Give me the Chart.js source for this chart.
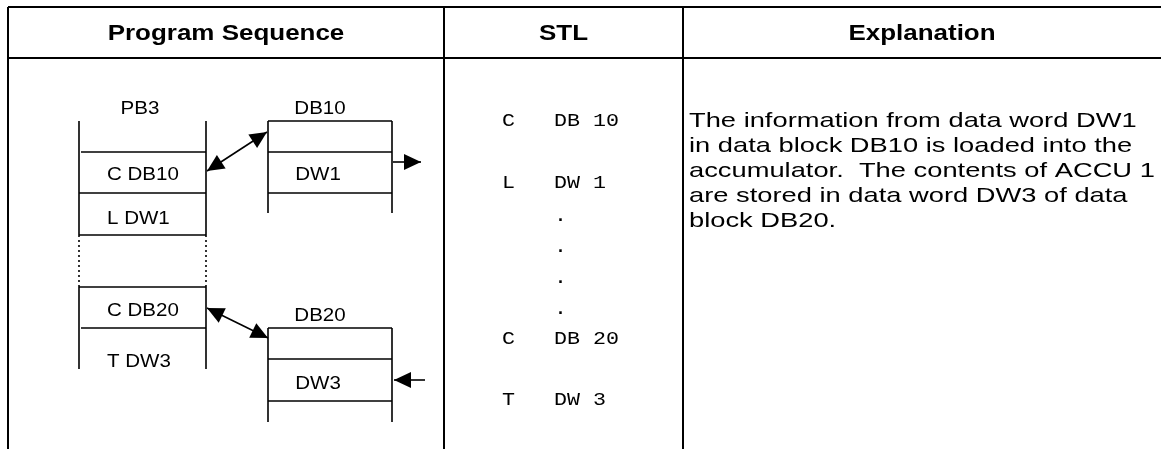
<!DOCTYPE html>
<html>
<head>
<meta charset="utf-8">
<script src="https://cdn.jsdelivr.net/npm/chart.js@4/dist/chart.umd.min.js"></script>
<style>
  body { margin: 0; background: #fff; }
  #diagram { display: block; }
</style>
</head>
<body>
<canvas id="diagram" width="1161" height="449"></canvas>
<script>
// page is 1161 x 449, the diagram uses the same units on both axes
const W = 1161, H = 449;

const headers = ["Program Sequence", "STL", "Explanation"];
const columnEdges = [8, 444, 683, 1161];

// table frame [x1, y1, x2, y2]
const frameLines = [
    [8, 7, 1161, 7], [8, 58, 1161, 58],
    [8, 7, 8, 449], [444, 7, 444, 449], [683, 7, 683, 449]
];

// block outlines of PB3, DB10 and DB20
const blockLines = [
    [79, 121, 79, 235], [206, 121, 206, 235], [79, 286, 79, 369], [206, 286, 206, 369],
    [81, 152, 206, 152], [79, 193, 206, 193], [79, 235, 206, 235], [79, 287, 206, 287], [81, 328, 206, 328],
    [268, 121, 392, 121], [268, 152, 392, 152], [268, 193, 392, 193], [268, 121, 268, 213], [392, 121, 392, 213],
    [268, 328, 392, 328], [268, 359, 392, 359], [268, 401, 392, 401], [268, 328, 268, 422], [392, 328, 392, 422]
];
const dottedLines = [[79, 235, 79, 286], [206, 235, 206, 286]];

// arrows: from, to, head at both ends?
const arrows = [
    [207, 171, 267, 132, true],
    [207, 308, 268, 338, true],
    [393, 162, 421, 162, false],
    [425, 380, 394, 380, false]
];

const blockLabels = ["PB3", "DB10", "DB20", "DW1", "DW3"];
const blockLabelPos = [[140, 107], [320, 107], [320, 314], [318, 173], [318, 382]];
const pbRows = ["C DB10", "L DW1", "C DB20", "T DW3"];
const pbRowY = [173, 217, 309, 360];

const stlOps = ["C", "L", "", "", "", "", "C", "T"];
const stlArgs = ["DB 10", "DW 1", ".", ".", ".", ".", "DB 20", "DW 3"];
const stlRowY = [119, 181, 214, 245, 276, 307, 337, 398];

const explanation = [
    "The information from data word DW1",
    "in data block DB10 is loaded into the",
    "accumulator.  The contents of ACCU 1",
    "are stored in data word DW3 of data",
    "block DB20."
];
const explanationY = [119, 144, 169, 194, 219];

const SANS = "'Liberation Sans', Arial, Helvetica, sans-serif";
const MONO = "'Liberation Mono', 'Courier New', monospace";

function segment(s, width, dash) {
    return {
        data: [{x: s[0], y: s[1]}, {x: s[2], y: s[3]}],
        showLine: true,
        borderColor: "#000",
        borderWidth: width,
        borderDash: dash || [],
        pointRadius: 0,
        tension: 0
    };
}

var datasets = [];
frameLines.forEach(s => datasets.push(segment(s, 2)));
blockLines.forEach(s => datasets.push(segment(s, 1.6)));
dottedLines.forEach(s => datasets.push(segment(s, 1.6, [2, 3])));
arrows.forEach(a => {
    // shaft only, heads are added by the plugin
    datasets.push(segment([a[0], a[1], a[2], a[3]], 1.6));
});

// the source picture is stretched sideways, so text gets a horizontal scale
function text(ctx, str, px, py, size, sx, weight, family, align) {
    ctx.save();
    ctx.font = weight + " " + size + "px " + family;
    ctx.fillStyle = "#000";
    ctx.textBaseline = "alphabetic";
    ctx.translate(px, py + size * 0.358);
    ctx.scale(sx, 1);
    ctx.textAlign = align;
    ctx.fillText(str, 0, 0);
    ctx.restore();
}

function head(ctx, fx, fy, tx, ty) {
    var a = Math.atan2(ty - fy, tx - fx);
    var len = 17, half = 8;
    ctx.beginPath();
    ctx.moveTo(tx, ty);
    ctx.lineTo(tx - len * Math.cos(a) + half * Math.sin(a), ty - len * Math.sin(a) - half * Math.cos(a));
    ctx.lineTo(tx - len * Math.cos(a) - half * Math.sin(a), ty - len * Math.sin(a) + half * Math.cos(a));
    ctx.closePath();
    ctx.fill();
}

const diagramPlugin = {
    id: "diagram",
    afterDatasetsDraw(chart) {
        var ctx = chart.ctx;
        var x = chart.scales.x, y = chart.scales.y;
        var px = v => x.getPixelForValue(v), py = v => y.getPixelForValue(v);

        headers.forEach((h, i) => {
            var c = (columnEdges[i] + columnEdges[i + 1]) / 2;
            text(ctx, h, px(c), py(32), 22, 1.18, "bold", SANS, "center");
        });

        blockLabels.forEach((l, i) => {
            text(ctx, l, px(blockLabelPos[i][0]), py(blockLabelPos[i][1]), 18.5, 1.11, "normal", SANS, "center");
        });
        pbRows.forEach((r, i) => text(ctx, r, px(107), py(pbRowY[i]), 18.5, 1.11, "normal", SANS, "left"));

        stlArgs.forEach((arg, i) => {
            var line = (stlOps[i] || " ").padEnd(4, " ") + arg;
            text(ctx, line, px(502), py(stlRowY[i]), 18.5, 1.17, "normal", MONO, "left");
        });

        explanation.forEach((l, i) => text(ctx, l, px(689), py(explanationY[i]), 21, 1.3, "normal", SANS, "left"));

        ctx.save();
        ctx.fillStyle = "#000";
        arrows.forEach(a => {
            head(ctx, px(a[0]), py(a[1]), px(a[2]), py(a[3]));
            if (a[4]) head(ctx, px(a[2]), py(a[3]), px(a[0]), py(a[1]));
        });
        ctx.restore();
    }
};

new Chart(document.getElementById("diagram"), {
    type: "scatter",
    data: { datasets: datasets },
    options: {
        responsive: false,
        animation: false,
        devicePixelRatio: 1,
        layout: { padding: 0 },
        plugins: { legend: { display: false }, tooltip: { enabled: false } },
        scales: {
            x: { type: "linear", min: 0, max: W, display: false },
            y: { type: "linear", min: 0, max: H, reverse: true, display: false }
        }
    },
    plugins: [diagramPlugin]
});
</script>
</body>
</html>
